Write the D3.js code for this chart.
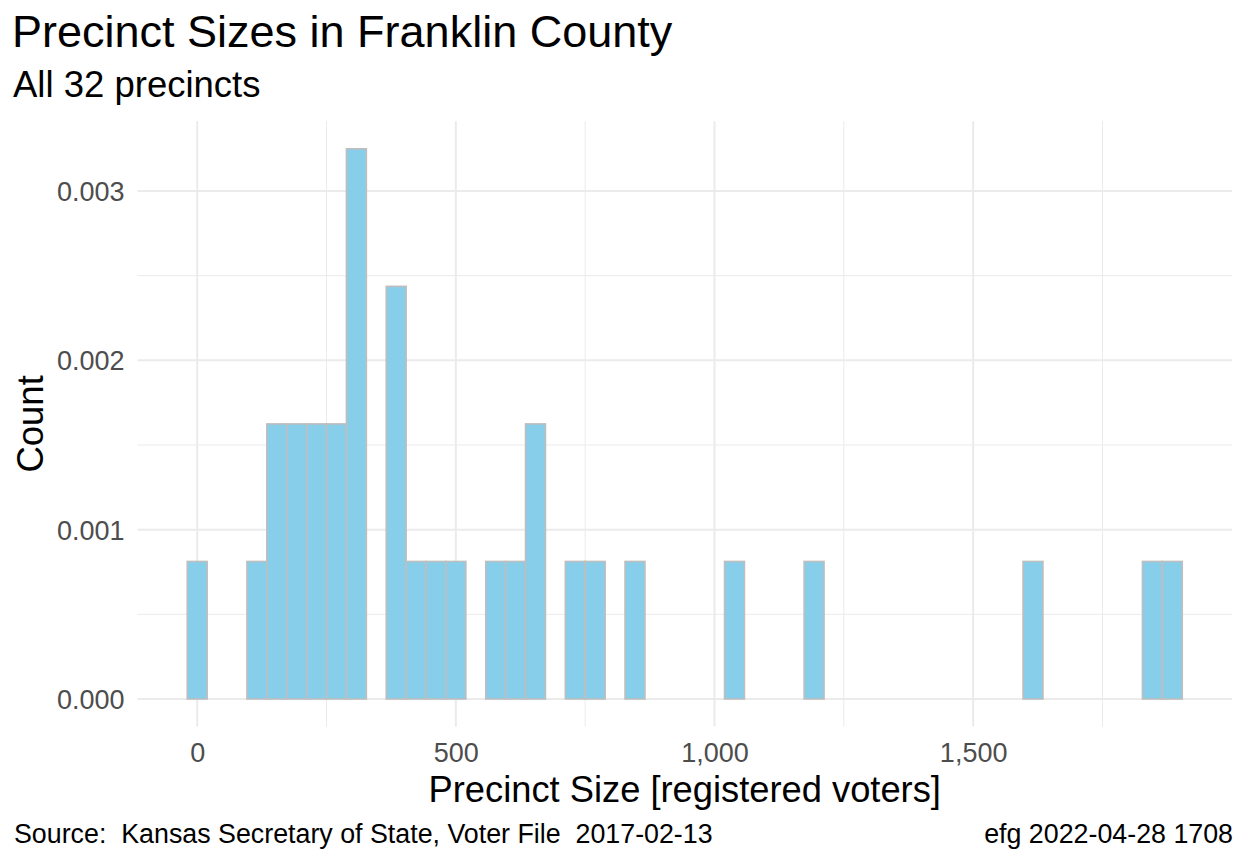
<!DOCTYPE html>
<html>
<head>
<meta charset="utf-8">
<script src="https://cdn.jsdelivr.net/npm/d3@7"></script>
<style>
  html, body { margin: 0; padding: 0; background: #fff; }
  svg { display: block; font-family: "Liberation Sans", Arial, sans-serif; }
  text { white-space: pre; }
</style>
</head>
<body>
<svg id="chart" width="1248" height="864"></svg>
<script>
// ---- Data ----
const totalPrecincts = 32;
const binMin = 0;          // centre of the first bin (registered voters)
const binMax = 1885;       // centre of the last bin
const binCount = 50;
// number of precincts falling in each of the 50 bins (index 0..49)
const binCounts = [
  1, 0, 0, 1, 2, 2, 2, 2, 4, 0,
  3, 1, 1, 1, 0, 1, 1, 2, 0, 1,
  1, 0, 1, 0, 0, 0, 0, 1, 0, 0,
  0, 1, 0, 0, 0, 0, 0, 0, 0, 0,
  0, 0, 1, 0, 0, 0, 0, 0, 1, 1
];
const xTicks = [0, 500, 1000, 1500];
const xMinor = [250, 750, 1250, 1750];
const yTicks = [0, 0.001, 0.002, 0.003];
const yMinor = [0.0005, 0.0015, 0.0025];
const titleText = "Precinct Sizes in Franklin County";
const subtitleText = "All 32 precincts";
const xTitle = "Precinct Size [registered voters]";
const yTitle = "Count";
const captionLeft = "Source:  Kansas Secretary of State, Voter File  2017-02-13";
const captionRight = "efg 2022-04-28 1708";

// ---- Derived bins ----
const binWidth = (binMax - binMin) / (binCount - 1);
const bins = binCounts.map((c, i) => {
  const mid = binMin + i * binWidth;
  return { x0: mid - binWidth / 2, x1: mid + binWidth / 2, density: c / (totalPrecincts * binWidth) };
});

// ---- Layout ----
const svg = d3.select("#chart");
const panel = { left: 137.5, right: 1232, top: 121.3, bottom: 726.5 };

const xLo = bins[0].x0, xHi = bins[bins.length - 1].x1;
const xPad = (xHi - xLo) * 0.05;
const x = d3.scaleLinear().domain([xLo - xPad, xHi + xPad]).range([panel.left, panel.right]);
const yMax = d3.max(bins, d => d.density);
const yPad = yMax * 0.05;
const y = d3.scaleLinear().domain([-yPad, yMax + yPad]).range([panel.bottom, panel.top]);

const grid = svg.append("g");
// minor grid
grid.selectAll(".xminor").data(xMinor).join("line")
  .attr("x1", d => x(d)).attr("x2", d => x(d))
  .attr("y1", panel.top).attr("y2", panel.bottom)
  .attr("stroke", "#ebebeb").attr("stroke-width", 1);
grid.selectAll(".yminor").data(yMinor).join("line")
  .attr("y1", d => y(d)).attr("y2", d => y(d))
  .attr("x1", panel.left).attr("x2", panel.right)
  .attr("stroke", "#ebebeb").attr("stroke-width", 1);
// major grid
grid.selectAll(".xmajor").data(xTicks).join("line")
  .attr("x1", d => x(d)).attr("x2", d => x(d))
  .attr("y1", panel.top).attr("y2", panel.bottom)
  .attr("stroke", "#ebebeb").attr("stroke-width", 2);
grid.selectAll(".ymajor").data(yTicks).join("line")
  .attr("y1", d => y(d)).attr("y2", d => y(d))
  .attr("x1", panel.left).attr("x2", panel.right)
  .attr("stroke", "#ebebeb").attr("stroke-width", 2);

// bars
svg.append("g").selectAll("rect").data(bins).join("rect")
  .attr("x", d => x(d.x0))
  .attr("width", d => x(d.x1) - x(d.x0))
  .attr("y", d => y(d.density))
  .attr("height", d => y(0) - y(d.density))
  .attr("fill", "#87ceeb")
  .attr("stroke", "#bebebe")
  .attr("stroke-width", 1.6);

// axes (text only, ggplot minimal style)
const fmt = d3.format(",");
const xAxis = svg.append("g").attr("transform", `translate(0,${panel.bottom})`)
  .call(d3.axisBottom(x).tickValues(xTicks).tickFormat(fmt).tickSize(0).tickPadding(35.5));
const yAxis = svg.append("g").attr("transform", `translate(${panel.left},0)`)
  .call(d3.axisLeft(y).tickValues(yTicks).tickFormat(d3.format(".3f")).tickSize(0).tickPadding(13));
[xAxis, yAxis].forEach(a => {
  a.select(".domain").remove();
  a.selectAll("text").attr("fill", "#4d4d4d").style("font-size", "27px")
    .style("font-family", "Liberation Sans, Arial, sans-serif");
});
xAxis.selectAll("text").attr("dy", "0");
yAxis.selectAll("text").attr("dy", "0.35em");

// titles
svg.append("text").attr("x", 12).attr("y", 47).text(titleText)
  .style("font-size", "45px").attr("fill", "#000");
svg.append("text").attr("x", 13).attr("y", 97).text(subtitleText)
  .style("font-size", "36.5px").attr("fill", "#000");
svg.append("text").attr("x", (panel.left + panel.right) / 2).attr("y", 802)
  .attr("text-anchor", "middle").text(xTitle).style("font-size", "36.3px");
svg.append("text").attr("transform", `translate(43,${(panel.top + panel.bottom) / 2}) rotate(-90)`)
  .attr("text-anchor", "middle").text(yTitle).style("font-size", "36.5px");
svg.append("text").attr("x", 14).attr("y", 843).text(captionLeft).style("font-size", "26.8px");
svg.append("text").attr("x", 1233).attr("y", 843).attr("text-anchor", "end").text(captionRight).style("font-size", "26.8px");
</script>
</body>
</html>
